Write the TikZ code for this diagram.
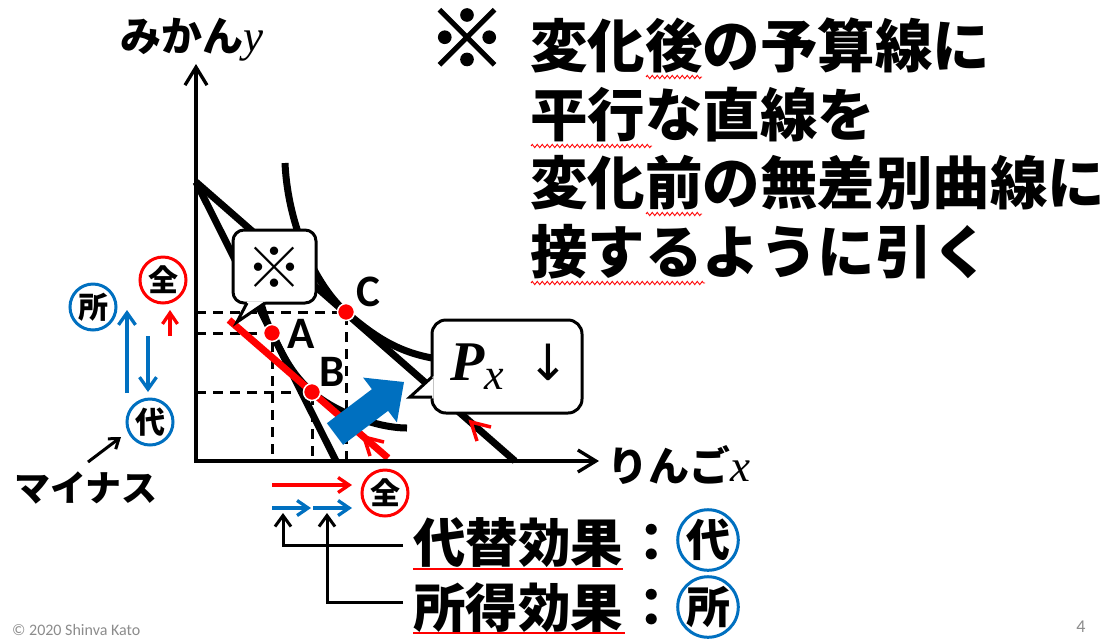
\documentclass[tikz,border=0pt]{standalone}
\usepackage{fontspec}
\setmainfont{Carlito}
\newfontfamily\jp{Noto Sans CJK JP}
\newfontfamily\komefont{Noto Sans CJK JP}[FakeBold=2.5]
\newfontfamily\serifit{Liberation Serif}
\newfontfamily\dvs{DejaVu Sans}
\usetikzlibrary{arrows.meta,calc,decorations.pathmorphing}
\definecolor{oblue}{HTML}{0070C0}
\definecolor{ored}{HTML}{FF0000}
\definecolor{ftgray}{HTML}{8C8C8C}
\tikzset{
  axisline/.style={line width=3.3pt,{Straight Barb[length=18pt,width=22pt]}-{Straight Barb[length=18pt,width=22pt]}},
  thickline/.style={line width=7pt},
  dashline/.style={line width=3pt,dash pattern=on 10pt off 7pt},
  redline/.style={ored,line width=7pt},
  chev/.style={ored,line width=3.5pt,line join=miter},
  dot/.style={circle,fill=ored,draw=white,line width=1.5pt,minimum size=17pt,inner sep=0pt},
  ptlabel/.style={font=\bfseries\fontsize{45}{45}\selectfont,inner sep=0pt},
  circ/.style={circle,draw=#1,line width=3pt,minimum size=46pt,inner sep=0pt,font=\jp\bfseries\fontsize{30}{30}\selectfont},
  bcirc/.style={circle,draw=oblue,line width=3pt,minimum size=60pt,inner sep=0pt,font=\jp\bfseries\fontsize{44}{44}\selectfont},
  barrow/.style={oblue,line width=3.3pt,-{Straight Barb[length=12pt,width=17pt]}},
  rarrow/.style={ored,line width=3.3pt,-{Straight Barb[length=11pt,width=15pt]}},
  karrow/.style={black,line width=3pt,-{Straight Barb[length=11pt,width=16pt]}},
  btext/.style={inner sep=0pt,font=\jp\bfseries\fontsize{52.5}{55}\selectfont},
  rtext/.style={inner sep=0pt,anchor=west,font=\jp\bfseries\fontsize{57.5}{60}\selectfont},
  lbltext/.style={inner sep=0pt,anchor=west,font=\jp\bfseries\fontsize{41}{44}\selectfont},
  callout/.style={fill=white,draw=black,line width=3pt,rounded corners=11pt},
  squig/.style={ored,line width=0.9pt,decorate,decoration={zigzag,segment length=5pt,amplitude=1.6pt}},
  uline/.style={ored,line width=2.5pt},
}
\begin{document}
\begin{tikzpicture}[x=1pt,y=-1pt]
\useasboundingbox (0,0) rectangle (1118,638);
\fill[white] (0,0) rectangle (1118,638);

% ---- key coordinates
\coordinate (O) at (196,461);
\coordinate (Ytop) at (196,64);
\coordinate (Xend) at (599,461);
\coordinate (Y0) at (196,182);
\coordinate (X0) at (336,461);
\coordinate (X1) at (515,461);
\coordinate (A) at (272,333);
\coordinate (B) at (312,392);
\coordinate (C) at (346,312);
\coordinate (R0) at (229,320);
\coordinate (R1) at (388,458);

% ---- dashed guides
\draw[dashline] (O |- C) -- (C) -- (C |- O);
\draw[dashline] (O |- A) -- (A) -- (A |- O);
\draw[dashline] (O |- B) -- (B) -- (B |- O);

% ---- budget lines
\draw[thickline] (Y0) -- (X0);
\draw[thickline] (Y0) -- (X1);

% ---- indifference curves
\draw[thickline] (285,163) .. controls (288,228) and (317,287) .. (C)
   .. controls (380.5,342) and (405,355) .. (445,360);
\draw[thickline] (252,255) .. controls (256,287) and (262,313) .. (A)
   .. controls (281.6,352) and (290.1,373) .. (B)
   .. controls (335,412) and (377,428) .. (407,428);

% ---- red compensated budget line
\draw[redline] (R0) -- (R1);
\coordinate (ch1) at (471,422);
\coordinate (ch2) at (364,437);
\draw[chev] ($(ch1)+(20,5)$) -- (ch1) -- ($(ch1)+(6,19)$);
\draw[chev] ($(ch2)+(20,5)$) -- (ch2) -- ($(ch2)+(6,19)$);

% ---- points
\node[dot] (dA) at (A) {};
\node[dot] (dB) at (B) {};
\node[dot] (dC) at (C) {};
\node[ptlabel] (lA) at (301,334) {A};
\node[ptlabel] (lB) at (332,372) {B};
\node[ptlabel] (lC) at (368,292) {C};

% ---- big blue arrow
\coordinate (bb1) at (326.9,423.2);
\coordinate (bb2) at (371.9,389.2);
\coordinate (bb3) at (363.1,377.6);
\coordinate (bb4) at (404,382);
\coordinate (bb5) at (396.9,422.4);
\coordinate (bb6) at (388.1,410.8);
\coordinate (bb7) at (343.1,444.8);
\fill[oblue] (bb1) -- (bb2) -- (bb3) -- (bb4) -- (bb5) -- (bb6) -- (bb7) -- cycle;

% ---- callout with kome mark
\draw[callout] (233,230) rectangle (316,303);
\fill[white] (247.5,301.4) -- (265.5,301.4) -- (237,322) -- cycle;
\draw[line width=3pt,line join=miter] (247,303) -- (237,322) -- (265,303);
\node[inner sep=0pt,font=\jp\fontsize{56}{56}\selectfont] (kome1) at (274.5,267.5) {※};

% ---- callout P_x
\draw[callout,rounded corners=14pt] (432,320) rectangle (582,413);
\fill[white] (433.6,376) -- (433.6,398.5) -- (410,397) -- cycle;
\draw[line width=3pt,line join=miter] (432,377) -- (410,397) -- (432,397);
\node[inner sep=0pt,anchor=base west,font=\serifit\bfseries\itshape\fontsize{56}{56}\selectfont] (px) at (450,380) {P\raisebox{-9pt}{\mdseries\fontsize{44}{44}\selectfont x}};
\node[inner sep=0pt,font=\dvs\fontsize{50}{50}\selectfont] (down) at (548,362) {↓};

% ---- axes
\draw[axisline] (Ytop) -- (O) -- (Xend);
\node[lbltext] (ylab) at (120,40) {みかん{\serifit\itshape\mdseries\fontsize{45}{45}\selectfont y}};
\node[lbltext] (xlab) at (607,465) {りんご{\serifit\itshape\mdseries\fontsize{45}{45}\selectfont x}};

% ---- left side marks
\node[circ=oblue] (sho) at (93,307) {所};
\node[circ=ored] (zen) at (163,280) {全};
\node[circ=oblue] (dai) at (150,422) {代};
\coordinate (bu0) at (127,393); \coordinate (bu1) at (127,310);
\coordinate (bd0) at (148,336); \coordinate (bd1) at (148,392);
\coordinate (ru0) at (170,336); \coordinate (ru1) at (170,310);
\draw[barrow] (bu0) -- (bu1);
\draw[barrow] (bd0) -- (bd1);
\draw[rarrow] (ru0) -- (ru1);
\node[inner sep=0pt,font=\jp\bfseries\fontsize{36}{36}\selectfont] (minus) at (86,488) {マイナス};
\coordinate (m0) at (88,462); \coordinate (m1) at (121,437);
\draw[karrow,-{Straight Barb[length=9pt,width=13pt]}] (m0) -- (m1);

% ---- bottom effect arrows
\coordinate (ra0) at (272,485); \coordinate (ra1) at (352,485);
\coordinate (ba0) at (272,508); \coordinate (ba1) at (311,508);
\coordinate (ba2) at (313,508); \coordinate (ba3) at (352,508);
\draw[rarrow] (ra0) -- (ra1);
\draw[barrow,-{Straight Barb[length=11pt,width=15pt]}] (ba0) -- (ba1);
\draw[barrow,-{Straight Barb[length=11pt,width=15pt]}] (ba2) -- (ba3);
\node[circ=ored] (zen2) at (385,493) {全};

\node[btext,anchor=west] (sub) at (413,543) {代替効果};
\node[btext,anchor=west] (inc) at (413,608) {所得効果};
\node[btext] (col1) at (652,543) {：};
\node[btext] (col2) at (652,608) {：};
\node[bcirc] (dai2) at (708,540) {代};
\node[bcirc] (sho2) at (708,607) {所};
\draw[uline] (413,569) -- (623,569);
\draw[uline] (413,633) -- (625,633);

\coordinate (k1) at (403,545); \coordinate (k1t) at (283,513);
\coordinate (k2) at (403,602); \coordinate (k2t) at (327,513);
\draw[karrow] (k1) -| (k1t);
\draw[karrow] (k2) -| (k2t);

% ---- right-hand note
\node[inner sep=0pt,font=\komefont\bfseries\fontsize{78}{78}\selectfont] (kome2) at (467,38) {※};
\node[rtext] (t1) at (530,46) {変化後の予算線に};
\node[rtext] (t2) at (530,115) {平行な直線を};
\node[rtext] (t3) at (530,183) {変化前の無差別曲線に};
\node[rtext] (t4) at (530,252) {接するように引く};
\draw[squig] (646,77) -- (702,77);
\draw[squig] (531,146) -- (652,146);
\draw[squig] (646,214) -- (702,214);
\draw[squig] (531,283) -- (705,283);

% ---- footer
\node[inner sep=0pt,anchor=west,text=ftgray,font=\fontsize{16}{16}\selectfont] (copy) at (12,630) {© 2020 Shinva Kato};
\node[inner sep=0pt,text=ftgray,font=\fontsize{18}{18}\selectfont] (pnum) at (1081,627) {4};
\end{tikzpicture}
\end{document}
